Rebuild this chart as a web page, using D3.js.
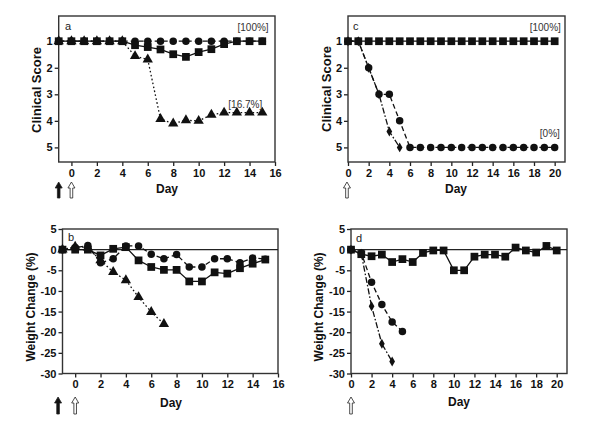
<!DOCTYPE html>
<html>
<head>
<meta charset="utf-8">
<script src="https://cdn.jsdelivr.net/npm/d3@7"></script>
<style>
  body { margin: 0; background: #fff; }
  svg { font-family: "Liberation Sans", Arial, sans-serif; }
</style>
</head>
<body>
<svg id="chart" width="600" height="424"></svg>
<script>
// panel a: clinical score, days -1..15
const daysA = [-1, 0, 1, 2, 3, 4, 5, 6, 7, 8, 9, 10, 11, 12, 13, 14, 15];
const scoreASquare = [1, 1, 1, 1, 1, 1, 1.15, 1.22, 1.31, 1.49, 1.59, 1.41, 1.3, 1.11, 1, 1, 1];
const scoreACircle = [1, 1, 1, 1, 1, 1, 1, 1, 1, 1, 1, 1, 1, 1, 1, 1, 1];
const scoreATriangle = [1, 1, 1, 1, 1, 1, 1.56, 1.69, 3.93, 4.1, 3.98, 4.0, 3.77, 3.69, 3.69, 3.69, 3.69];

// panel b: weight change, days -1..15 (triangles stop at day 7)
const daysB = [-1, 0, 1, 2, 3, 4, 5, 6, 7, 8, 9, 10, 11, 12, 13, 14, 15];
const weightBSquare = [0, 0, 0, -1.4, 0.2, 0.6, -2.6, -4.2, -4.9, -4.9, -7.7, -7.7, -5.5, -5.8, -4.5, -3.4, -2.4];
const weightBCircle = [0, 0.5, 1.0, -3.2, -2.2, 0.9, 0.9, -1.1, -2.2, -1.2, -4.2, -4.2, -2.2, -2.2, -3.2, -2.0, -2.3];
const daysBTriangle = [-1, 0, 1, 2, 3, 4, 5, 6, 7];
const weightBTriangle = [0, 0.7, 0.5, -2.6, -5.4, -7.4, -11.5, -15.1, -18.0];

// panel c: clinical score, days 0..20
const daysC = [0, 1, 2, 3, 4, 5, 6, 7, 8, 9, 10, 11, 12, 13, 14, 15, 16, 17, 18, 19, 20];
const scoreCSquare = [1, 1, 1, 1, 1, 1, 1, 1, 1, 1, 1, 1, 1, 1, 1, 1, 1, 1, 1, 1, 1];
const scoreCCircle = [1, 1, 2, 3, 3, 4, 5, 5, 5, 5, 5, 5, 5, 5, 5, 5, 5, 5, 5, 5, 5];
const daysCDiamond = [0, 1, 2, 3, 4, 5];
const scoreCDiamond = [1, 1, 2, 3, 4.4, 5];

// panel d: weight change, days 0..20
const daysD = [0, 1, 2, 3, 4, 5, 6, 7, 8, 9, 10, 11, 12, 13, 14, 15, 16, 17, 18, 19, 20];
const weightDSquare = [0, -1.1, -1.6, -1.2, -3.0, -2.3, -3.0, -0.8, -0.2, -0.2, -5.0, -5.0, -1.7, -1.2, -1.2, -1.7, 0.5, -0.2, -0.7, 0.9, -0.2];
const daysDCircle = [0, 1, 2, 3, 4, 5];
const weightDCircle = [0, -0.8, -7.9, -13.3, -17.5, -19.8];
const daysDDiamond = [0, 1, 2, 3, 4];
const weightDDiamond = [0, -1.0, -13.7, -22.8, -27.1];

const scoreTicks = [1, 2, 3, 4, 5];
const weightTicks = [5, 0, -5, -10, -15, -20, -25, -30];
const dayTicks16 = [0, 2, 4, 6, 8, 10, 12, 14, 16];
const dayTicks20 = [0, 2, 4, 6, 8, 10, 12, 14, 16, 18, 20];

const zip = (xs, ys) => xs.map((x, i) => [x, ys[i]]);

const lineStyles = {
  square: null,
  circle: '5,3',
  triangle: '1.6,2.4',
  diamond: '6,2,1.6,2'
};
const symbols = {
  square: d3.symbol().type(d3.symbolSquare).size(60),
  circle: d3.symbol().type(d3.symbolCircle).size(44),
  triangle: d3.symbol().type(d3.symbolTriangle).size(46),
  diamond: d3.symbol().type(d3.symbolDiamond).size(28)
};

const svg = d3.select('#chart');

const drawPanel = (p) => {
  const x = d3.scaleLinear().domain(p.xDomain).range(p.xRange);
  const y = d3.scaleLinear().domain(p.yDomain).range(p.yRange);
  const top = Math.min(...p.yRange), bottom = Math.max(...p.yRange);
  const g = svg.append('g');
  const fmt = d => String(d);

  // y axis
  g.append('g')
    .attr('transform', `translate(${p.xRange[0]},0)`)
    .call(d3.axisLeft(y).tickValues(p.yTicks).tickFormat(fmt).tickSize(4).tickPadding(2))
    .call(a => a.select('.domain').remove())
    .call(a => a.selectAll('line').attr('stroke', '#222').attr('stroke-width', 1.3))
    .call(a => a.selectAll('text').attr('font-size', 11).attr('font-weight', 'bold').attr('fill', '#111'));

  // x axis
  g.append('g')
    .attr('transform', `translate(0,${bottom})`)
    .call(d3.axisBottom(x).tickValues(p.xTicks).tickFormat(fmt).tickSize(4).tickPadding(3))
    .call(a => a.select('.domain').remove())
    .call(a => a.selectAll('line').attr('stroke', '#222').attr('stroke-width', 1.3))
    .call(a => a.selectAll('text').attr('font-size', 11).attr('font-weight', 'bold').attr('fill', '#111'));

  // frame
  g.append('rect')
    .attr('x', p.xRange[0]).attr('y', top)
    .attr('width', p.xRange[1] - p.xRange[0])
    .attr('height', bottom - top)
    .attr('fill', 'none').attr('stroke', '#333').attr('stroke-width', 1.4);

  if (p.zeroLine) {
    g.append('line')
      .attr('x1', p.xRange[0]).attr('x2', p.xRange[1])
      .attr('y1', y(0)).attr('y2', y(0))
      .attr('stroke', '#222').attr('stroke-width', 1.3);
  }

  const line = d3.line().x(d => x(d[0])).y(d => y(d[1]));

  p.series.forEach(s => {
    g.append('path')
      .datum(s.data)
      .attr('fill', 'none')
      .attr('stroke', '#111')
      .attr('stroke-width', 1.3)
      .attr('stroke-dasharray', lineStyles[s.marker])
      .attr('d', line);
  });
  p.series.forEach(s => {
    g.selectAll(null)
      .data(s.data)
      .join('path')
      .attr('transform', d => `translate(${x(d[0])},${y(d[1])})`)
      .attr('d', symbols[s.marker])
      .attr('fill', '#111');
  });

  // panel letter + annotations
  g.append('text').attr('x', p.letterPos[0]).attr('y', p.letterPos[1])
    .attr('font-size', 11).attr('fill', '#222').text(p.letter);
  (p.notes || []).forEach(n => {
    g.append('text').attr('x', x(n.x)).attr('y', y(n.y))
      .attr('text-anchor', 'end').attr('font-size', 10).attr('fill', '#333').text(n.text);
  });

  // axis titles
  g.append('text')
    .attr('transform', `translate(${p.yTitlePos[0]},${p.yTitlePos[1]}) rotate(-90)`)
    .attr('text-anchor', 'middle').attr('font-size', p.yTitleSize).attr('font-weight', 'bold')
    .attr('fill', '#111').text(p.yTitle);
  g.append('text')
    .attr('x', p.dayPos[0]).attr('y', p.dayPos[1])
    .attr('text-anchor', 'middle').attr('font-size', 12).attr('font-weight', 'bold')
    .attr('fill', '#111').text('Day');

  // treatment arrows
  p.arrows.forEach(ar => {
    const cx = x(ar.day), t = p.arrowY[0], b = p.arrowY[1];
    const path = d3.path();
    path.moveTo(cx, t);
    path.lineTo(cx + 3.5, t + 6);
    path.lineTo(cx + 1.3, t + 6);
    path.lineTo(cx + 1.3, b);
    path.lineTo(cx - 1.3, b);
    path.lineTo(cx - 1.3, t + 6);
    path.lineTo(cx - 3.5, t + 6);
    path.closePath();
    g.append('path').attr('d', path.toString())
      .attr('fill', ar.filled ? '#111' : '#fff')
      .attr('stroke', '#222').attr('stroke-width', 0.8);
  });
};

drawPanel({
  letter: 'a', letterPos: [65, 30],
  xDomain: [-1, 16], xRange: [58.7, 275], xTicks: dayTicks16,
  yDomain: [0.05, 5.55], yRange: [16, 162], yTicks: scoreTicks,
  yTitle: 'Clinical Score', yTitleSize: 13, yTitlePos: [41, 90],
  dayPos: [167, 193], arrowY: [182, 198],
  arrows: [{day: -1, filled: true}, {day: 0, filled: false}],
  notes: [{x: 15.5, y: 0.62, text: '[100%]'}, {x: 15.0, y: 3.5, text: '[16.7%]'}],
  series: [
    {marker: 'triangle', data: zip(daysA, scoreATriangle)},
    {marker: 'circle', data: zip(daysA, scoreACircle)},
    {marker: 'square', data: zip(daysA, scoreASquare)}
  ]
});

drawPanel({
  letter: 'b', letterPos: [68, 241],
  xDomain: [-1, 16], xRange: [62.5, 278], xTicks: dayTicks16,
  yDomain: [-30, 5], yRange: [373.5, 229], yTicks: weightTicks,
  yTitle: 'Weight Change (%)', yTitleSize: 12, yTitlePos: [35, 307],
  zeroLine: true,
  dayPos: [171, 407], arrowY: [397, 414],
  arrows: [{day: -1.35, filled: true}, {day: 0, filled: false}],
  series: [
    {marker: 'triangle', data: zip(daysBTriangle, weightBTriangle)},
    {marker: 'circle', data: zip(daysB, weightBCircle)},
    {marker: 'square', data: zip(daysB, weightBSquare)}
  ]
});

drawPanel({
  letter: 'c', letterPos: [353, 30],
  xDomain: [0, 21], xRange: [348, 565], xTicks: dayTicks20,
  yDomain: [0.05, 5.55], yRange: [16, 162], yTicks: scoreTicks,
  yTitle: 'Clinical Score', yTitleSize: 13, yTitlePos: [331, 89],
  dayPos: [456, 193], arrowY: [182, 198],
  arrows: [{day: -0.1, filled: false}],
  notes: [{x: 20.6, y: 0.62, text: '[100%]'}, {x: 20.5, y: 4.62, text: '[0%]'}],
  series: [
    {marker: 'diamond', data: zip(daysCDiamond, scoreCDiamond)},
    {marker: 'circle', data: zip(daysC, scoreCCircle)},
    {marker: 'square', data: zip(daysC, scoreCSquare)}
  ]
});

drawPanel({
  letter: 'd', letterPos: [356, 242],
  xDomain: [0, 21], xRange: [351, 567], xTicks: dayTicks20,
  yDomain: [-30, 5], yRange: [373.5, 229], yTicks: weightTicks,
  yTitle: 'Weight Change (%)', yTitleSize: 12, yTitlePos: [323, 307],
  zeroLine: true,
  dayPos: [459, 406], arrowY: [397, 414],
  arrows: [{day: 0, filled: false}],
  series: [
    {marker: 'diamond', data: zip(daysDDiamond, weightDDiamond)},
    {marker: 'circle', data: zip(daysDCircle, weightDCircle)},
    {marker: 'square', data: zip(daysD, weightDSquare)}
  ]
});
</script>
</body>
</html>
